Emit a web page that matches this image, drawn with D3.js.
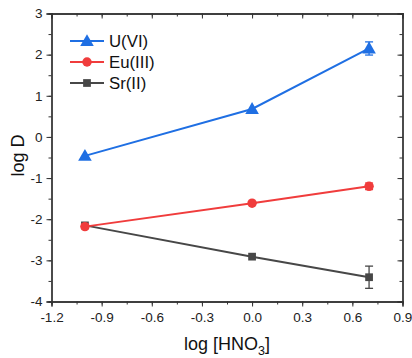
<!DOCTYPE html>
<html><head><meta charset="utf-8">
<script src="https://cdn.jsdelivr.net/npm/d3@7"></script>
<style>body{margin:0;background:#fff}svg{display:block;font-family:"Liberation Sans",Arial,sans-serif}</style>
</head><body><svg id="c" width="412" height="358"></svg>
<script>
const xValues = [-1, 0, 0.7];
const seriesNames = ["U(VI)", "Eu(III)", "Sr(II)"];
const uValues = [-0.46, 0.68, 2.15];
const uErrors = [0, 0, 0.16];
const euValues = [-2.18, -1.61, -1.2];
const euErrors = [0, 0, 0.08];
const srValues = [-2.15, -2.91, -3.41];
const srErrors = [0, 0, 0.27];
const xTicks = [-1.2, -0.9, -0.6, -0.3, 0.0, 0.3, 0.6, 0.9];
const yTicks = [-4, -3, -2, -1, 0, 1, 2, 3];
const colors = ["#1f6fe3", "#f03c3c", "#474747"];
const symbols = [d3.symbolTriangle, d3.symbolCircle, d3.symbolSquare];

const svg = d3.select("#c");
const L = 51.5, R = 402.5, T = 13.5, B = 301.5;
const x = d3.scaleLinear().domain([-1.2, 0.9]).range([L, R]);
const y = d3.scaleLinear().domain([-4, 3]).range([B, T]);

const minorX = d3.range(-1.2, 0.91, 0.15).map(v => +v.toFixed(2));
const minorY = d3.range(-4, 3.01, 0.5);

function styleAxis(g){ g.select(".domain").attr("stroke","#333").attr("stroke-width",1.3); g.selectAll("line").attr("stroke","#333").attr("stroke-width",1); g.selectAll("text").attr("fill","#222").style("font-size","13.5px"); }

svg.append("g").attr("transform",`translate(0,${B})`)
  .call(d3.axisBottom(x).tickValues(minorX).tickSize(3).tickFormat("")).call(styleAxis);
svg.append("g").attr("transform",`translate(0,${B})`)
  .call(d3.axisBottom(x).tickValues(xTicks).tickSize(5).tickPadding(6).tickFormat(d3.format(".1f"))).call(styleAxis);
svg.append("g").attr("transform",`translate(0,${T})`)
  .call(d3.axisBottom(x).tickValues(minorX).tickSize(3).tickFormat("")).call(styleAxis);
svg.append("g").attr("transform",`translate(0,${T})`)
  .call(d3.axisBottom(x).tickValues(xTicks).tickSize(5).tickFormat("")).call(styleAxis);
svg.append("g").attr("transform",`translate(${L},0)`)
  .call(d3.axisLeft(y).tickValues(minorY).tickSize(3).tickFormat("")).call(styleAxis);
svg.append("g").attr("transform",`translate(${L},0)`)
  .call(d3.axisLeft(y).tickValues(yTicks).tickSize(5).tickPadding(4).tickFormat(d3.format("d"))).call(styleAxis);
svg.append("g").attr("transform",`translate(${R},0)`)
  .call(d3.axisLeft(y).tickValues(minorY).tickSize(3).tickFormat("")).call(styleAxis);
svg.append("g").attr("transform",`translate(${R},0)`)
  .call(d3.axisLeft(y).tickValues(yTicks).tickSize(5).tickFormat("")).call(styleAxis);

svg.selectAll(".tick text").text(function(){ return this.textContent.replace("\u2212","-"); });

const xt = svg.append("text").attr("x",(L+R)/2).attr("y",350).attr("text-anchor","middle")
  .style("font-size","18px").attr("fill","#111");
xt.append("tspan").text("log [HNO");
xt.append("tspan").text("3").style("font-size","12.5px").attr("dy",5);
xt.append("tspan").text("]").attr("dy",-5);
svg.append("text").attr("transform",`translate(24,${(T+B)/2-2}) rotate(-90)`).attr("text-anchor","middle")
  .style("font-size","18px").attr("fill","#111").text("log D");

const series = [
  {name: seriesNames[0], vals: uValues, errs: uErrors},
  {name: seriesNames[1], vals: euValues, errs: euErrors},
  {name: seriesNames[2], vals: srValues, errs: srErrors}
];
const sizes = [80, 70, 60];
const line = d3.line().x(d => x(d[0])).y(d => y(d[1]));
[2,1,0].forEach(i => {
  const s = series[i];
  const pts = xValues.map((xv, j) => [xv, s.vals[j], s.errs[j]]);
  const g = svg.append("g");
  g.append("path").datum(pts).attr("d", line).attr("fill","none").attr("stroke",colors[i]).attr("stroke-width",2);
  pts.filter(p => p[2] > 0).forEach(p => {
    const cx = x(p[0]);
    g.append("line").attr("x1",cx).attr("x2",cx).attr("y1",y(p[1]-p[2])).attr("y2",y(p[1]+p[2])).attr("stroke",colors[i]).attr("stroke-width",1.3);
    [p[1]-p[2], p[1]+p[2]].forEach(v => g.append("line").attr("x1",cx-4).attr("x2",cx+4).attr("y1",y(v)).attr("y2",y(v)).attr("stroke",colors[i]).attr("stroke-width",1.3));
  });
  g.selectAll("path.m").data(pts).enter().append("path").attr("class","m")
    .attr("transform", d => `translate(${x(d[0])},${y(d[1]) + (i===0?1:0)})`)
    .attr("d", d3.symbol().type(symbols[i]).size(sizes[i])).attr("fill",colors[i]);
});

const legY = [41, 62, 83];
series.forEach((s, i) => {
  const g = svg.append("g").attr("transform",`translate(0,${legY[i]})`);
  g.append("line").attr("x1",70).attr("x2",104).attr("y1",0).attr("y2",0).attr("stroke",colors[i]).attr("stroke-width",2);
  g.append("path").attr("transform",`translate(87,${i===0?1:0})`).attr("d", d3.symbol().type(symbols[i]).size(sizes[i])).attr("fill",colors[i]);
  g.append("text").attr("x",109).attr("y",6).style("font-size","16.8px").attr("fill","#111").text(s.name);
});
</script></body></html>
